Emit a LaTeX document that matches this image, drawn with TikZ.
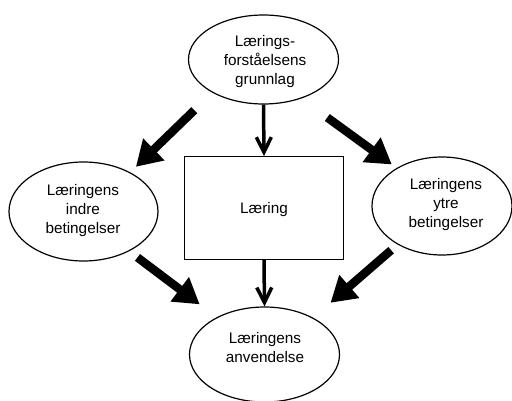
\documentclass[tikz,border=0pt]{standalone}
\usepackage{fontspec}
\setmainfont{Liberation Sans}
\usetikzlibrary{shapes.geometric,arrows.meta}

\tikzset{
  oval/.style={ellipse, draw=black, line width=1.2pt, inner sep=0pt},
  frame/.style={rectangle, draw=black, line width=1.3pt, inner sep=0pt},
  txt/.style={align=center, inner sep=0pt, font=\fontsize{15.3}{19}\selectfont},
  bigarrow/.style={line width=8.5pt, -{Triangle[width=29pt,length=25pt]}},
  thinarrow/.style={line width=3.5pt, -{Straight Barb[length=15pt,width=15pt]}}
}

\begin{document}
\begin{tikzpicture}[x=1pt,y=-1pt]
  \useasboundingbox (0,0) rectangle (512,401);

  % shapes
  \node[oval, minimum width=150pt, minimum height=89pt]   (top)   at (263.5,59.5)  {};
  \node[oval, minimum width=149pt, minimum height=99pt]   (left)  at (83.5,211.5)  {};
  \node[oval, minimum width=140pt, minimum height=98pt]   (right) at (442,206)     {};
  \node[oval, minimum width=150pt, minimum height=95pt]   (bot)   at (264.5,354.5) {};
  \node[frame, minimum width=159pt, minimum height=102.6pt] (box) at (264,208)     {};

  % labels
  \node[txt] (topT)   at (265,61.5)  {Lærings-\\forståelsens\\grunnlag};
  \node[txt] (leftT)  at (83,210.5)  {Læringens\\indre\\betingelser};
  \node[txt] (rightT) at (446,205)   {Læringens\\ytre\\betingelser};
  \node[txt] (botT)   at (265,347.5) {Læringens\\anvendelse};
  \node[txt] (boxT)   at (264,209.5) {Læring};

  % heavy arrows between the ovals
  \draw[bigarrow, shorten <=25.1pt, shorten >=7.9pt]  (top.213.7)   -- (left.40.5);
  \draw[bigarrow, shorten <=32.2pt, shorten >=6pt]    (top.314.8)   -- (right.140.4);
  \draw[bigarrow, shorten <=10.3pt, shorten >=21.4pt] (left.319.1)  -- (bot.142.7);
  \draw[bigarrow, shorten <=8.6pt,  shorten >=22.8pt] (right.221.4) -- (bot.37.9);

  % light arrows through the central box
  \draw[thinarrow] (top.south) -- (box.north);
  \draw[thinarrow] (box.south) -- (bot.north);
\end{tikzpicture}
\end{document}
